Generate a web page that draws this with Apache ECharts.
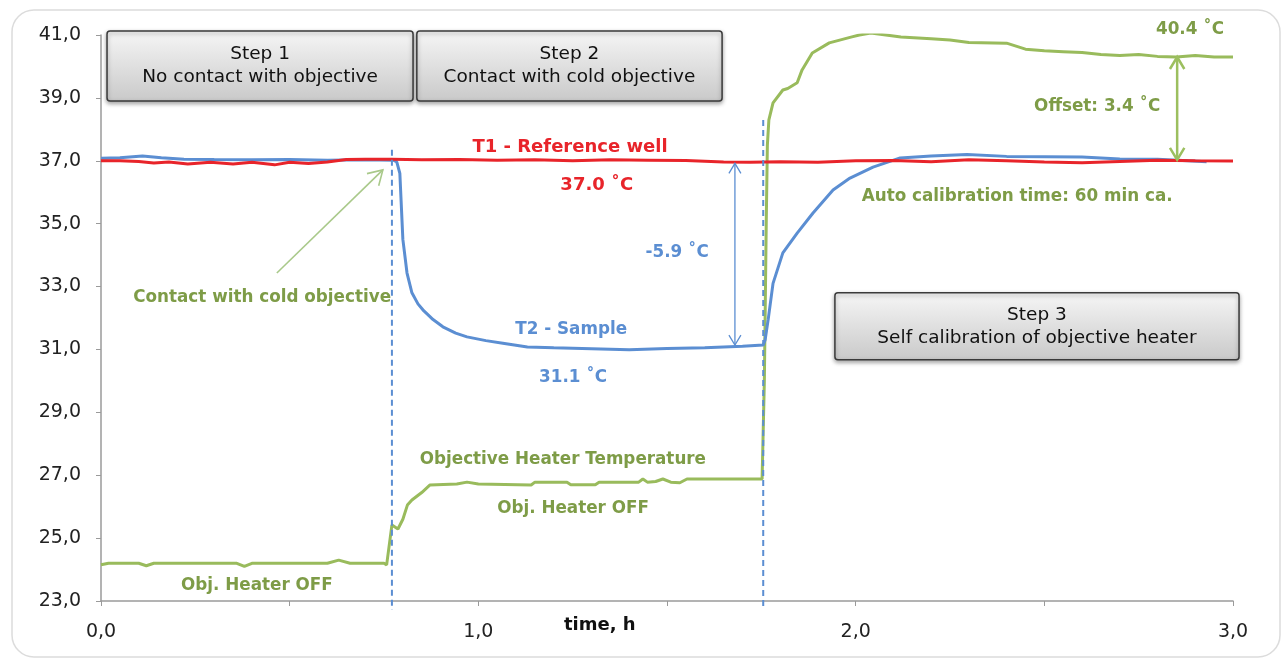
<!DOCTYPE html>
<html>
<head>
<meta charset="utf-8">
<style>
  html, body { margin: 0; padding: 0; background: #fff; }
  #chart { width: 1283px; height: 664px; }
</style>
<script src="https://cdn.jsdelivr.net/npm/echarts@6/dist/echarts.min.js"></script>
</head>
<body>
<div id="chart"></div>
<script>
// T1 - reference well, [time h, temp C]
const refWell = [
  [0, 37.0], [0.05, 37.0], [0.1, 36.98], [0.14, 36.93], [0.18, 36.96], [0.23, 36.9],
  [0.29, 36.95], [0.35, 36.9], [0.4, 36.95], [0.46, 36.87], [0.5, 36.95], [0.55, 36.91],
  [0.6, 36.96], [0.65, 37.04], [0.7, 37.05], [0.77, 37.05], [0.85, 37.03], [0.95, 37.04],
  [1.05, 37.02], [1.15, 37.03], [1.25, 37.0], [1.35, 37.03], [1.45, 37.02], [1.55, 37.01],
  [1.65, 36.96], [1.72, 36.95], [1.8, 36.97], [1.9, 36.95], [2.0, 37.0], [2.1, 37.01],
  [2.2, 36.97], [2.3, 37.03], [2.4, 37.0], [2.5, 36.96], [2.6, 36.94], [2.7, 36.98],
  [2.8, 37.02], [2.9, 37.0], [3.0, 36.99]
]

// T2 - sample
const sample = [
  [0, 37.08], [0.05, 37.1], [0.11, 37.15], [0.16, 37.1], [0.22, 37.05], [0.3, 37.04],
  [0.4, 37.03], [0.5, 37.04], [0.6, 37.02], [0.7, 37.03], [0.775, 37.02], [0.784, 36.96],
  [0.792, 36.6], [0.8, 34.5], [0.811, 33.43], [0.824, 32.8], [0.84, 32.45], [0.853, 32.26],
  [0.88, 31.95], [0.906, 31.72], [0.94, 31.52], [0.97, 31.4], [1.02, 31.28], [1.065, 31.2],
  [1.13, 31.08], [1.2, 31.05], [1.3, 31.02], [1.4, 30.99], [1.5, 31.03], [1.6, 31.05],
  [1.7, 31.1], [1.755, 31.14], [1.76, 31.3], [1.768, 31.94], [1.781, 33.1], [1.807, 34.07],
  [1.845, 34.7], [1.887, 35.34], [1.94, 36.07], [1.985, 36.45], [2.046, 36.8], [2.118, 37.09],
  [2.2, 37.15], [2.295, 37.2], [2.4, 37.14], [2.5, 37.13], [2.6, 37.12], [2.7, 37.06],
  [2.8, 37.05], [2.88, 37.0], [2.93, 36.97]
]

// objective heater temperature
const objHeater = [
  [0, 24.15], [0.02, 24.2], [0.1, 24.2], [0.12, 24.12], [0.14, 24.2], [0.25, 24.2],
  [0.36, 24.2], [0.38, 24.1], [0.4, 24.2], [0.5, 24.2], [0.6, 24.2], [0.63, 24.3],
  [0.66, 24.2], [0.75, 24.2], [0.757, 24.15], [0.771, 25.42], [0.787, 25.29], [0.8, 25.6],
  [0.812, 26.05], [0.824, 26.21], [0.85, 26.45], [0.872, 26.69], [0.943, 26.72], [0.97, 26.78],
  [1.0, 26.72], [1.14, 26.69], [1.15, 26.78], [1.235, 26.78], [1.245, 26.7], [1.31, 26.7],
  [1.32, 26.78], [1.425, 26.78], [1.436, 26.88], [1.448, 26.78], [1.47, 26.8], [1.489, 26.88],
  [1.51, 26.78], [1.534, 26.76], [1.553, 26.88], [1.752, 26.88], [1.758, 30.0], [1.763, 35.0],
  [1.766, 37.5], [1.77, 38.3], [1.781, 38.84], [1.807, 39.25], [1.82, 39.3], [1.845, 39.48],
  [1.858, 39.89], [1.885, 40.43], [1.93, 40.75], [1.99, 40.94], [2.01, 41.0], [2.04, 41.06],
  [2.08, 41.0], [2.12, 40.94], [2.2, 40.88], [2.25, 40.84], [2.3, 40.76], [2.4, 40.74],
  [2.45, 40.55], [2.5, 40.5], [2.55, 40.47], [2.6, 40.44], [2.65, 40.38], [2.7, 40.35],
  [2.75, 40.38], [2.8, 40.32], [2.85, 40.3], [2.9, 40.35], [2.95, 40.3], [3.0, 40.3]
]

const phaseChanges = [0.771, 1.755]

const RED = '#e8242a'
const BLUE = '#5b8ed2'
const GREEN = '#99bb5c'
const GREEN_TXT = '#7e9c47'
const FONT = '"DejaVu Sans", Verdana, sans-serif'

const chart = echarts.init(document.getElementById('chart'))

chart.setOption({
  animation: false,
  backgroundColor: '#fff',
  grid: { left: 101, right: 50, top: 35, bottom: 63 },
  xAxis: {
    type: 'value',
    min: 0,
    max: 3,
    interval: 0.5,
    axisLine: { lineStyle: { color: '#9a9a9a', width: 1.5 } },
    axisTick: { show: true, length: 5, lineStyle: { color: '#9a9a9a' } },
    splitLine: { show: false },
    axisLabel: {
      margin: 22,
      fontSize: 19,
      fontFamily: FONT,
      color: '#222',
      formatter: v => (Math.abs(v % 1) < 1e-6 ? v.toFixed(1).replace('.', ',') : '')
    }
  },
  yAxis: {
    type: 'value',
    min: 23,
    max: 41,
    interval: 2,
    axisLine: { show: true, lineStyle: { color: '#9a9a9a', width: 1.5 } },
    axisTick: { show: true, length: 5, lineStyle: { color: '#9a9a9a' } },
    splitLine: { show: false },
    axisLabel: {
      margin: 20,
      fontSize: 19,
      fontFamily: FONT,
      color: '#222',
      formatter: v => v.toFixed(1).replace('.', ',')
    }
  },
  series: [
    {
      name: 'Objective Heater Temperature',
      type: 'line',
      data: objHeater,
      showSymbol: false,
      clip: true,
      lineStyle: { color: GREEN, width: 3 }
    },
    {
      name: 'T2 - Sample',
      type: 'line',
      data: sample,
      showSymbol: false,
      lineStyle: { color: BLUE, width: 3 }
    },
    {
      name: 'T1 - Reference well',
      type: 'line',
      data: refWell,
      showSymbol: false,
      lineStyle: { color: RED, width: 3 }
    }
  ]
})

function px(t, v) {
  return chart.convertToPixel({ gridIndex: 0 }, [t, v])
}

function label(text, t, v, color, size) {
  const p = px(t, v)
  return {
    type: 'text',
    z: 20,
    style: {
      text: text,
      x: p[0],
      y: p[1],
      fill: color,
      font: 'bold ' + (size || 16.8) + 'px ' + FONT,
      textAlign: 'center',
      textVerticalAlign: 'middle'
    }
  }
}

function stepBox(t0, t1, vTop, vBot, lines) {
  const a = px(t0, vTop)
  const b = px(t1, vBot)
  const cx = (a[0] + b[0]) / 2
  const cy = (a[1] + b[1]) / 2
  return [
    {
      type: 'rect',
      z: 15,
      shape: { x: a[0], y: a[1], width: b[0] - a[0], height: b[1] - a[1], r: 3 },
      style: {
        fill: new echarts.graphic.LinearGradient(0, 0, 0, 1, [
          { offset: 0, color: '#f6f6f6' },
          { offset: 1, color: '#c9c9c9' }
        ]),
        stroke: '#3a3a3a',
        lineWidth: 1.5,
        shadowBlur: 4,
        shadowOffsetY: 2,
        shadowColor: 'rgba(0,0,0,0.35)'
      }
    },
    {
      type: 'text',
      z: 16,
      style: {
        text: lines.join('\n'),
        x: cx,
        y: cy,
        fill: '#111',
        font: '18.5px ' + FONT,
        lineHeight: 23,
        textAlign: 'center',
        textVerticalAlign: 'middle'
      }
    }
  ]
}

// single/double arrow with open chevron heads
function arrow(from, to, color, width, head, both) {
  const els = [{
    type: 'line',
    z: 12,
    shape: { x1: from[0], y1: from[1], x2: to[0], y2: to[1] },
    style: { stroke: color, lineWidth: width }
  }]
  const tips = both ? [[to, from], [from, to]] : [[to, from]]
  tips.forEach(([tip, tail]) => {
    const dx = tip[0] - tail[0]
    const dy = tip[1] - tail[1]
    const len = Math.sqrt(dx * dx + dy * dy)
    const ux = dx / len
    const uy = dy / len
    const bx = tip[0] - ux * head
    const by = tip[1] - uy * head
    const w = head * 0.6
    els.push({
      type: 'polyline',
      z: 12,
      shape: { points: [[bx - uy * w, by + ux * w], tip, [bx + uy * w, by - ux * w]] },
      style: { stroke: color, lineWidth: width, fill: null }
    })
  })
  return els
}

const graphics = []

// outer rounded frame
graphics.push({
  type: 'rect',
  z: 0,
  shape: { x: 12, y: 10, width: 1268, height: 647, r: 22 },
  style: { fill: null, stroke: '#dcdcdc', lineWidth: 1.5 }
})

// phase change dashed lines
const dashTops = [37.35, 38.3]
phaseChanges.forEach((t, i) => {
  const top = px(t, dashTops[i])
  const bot = px(t, 23)
  graphics.push({
    type: 'line',
    z: 11,
    shape: { x1: top[0], y1: top[1], x2: bot[0], y2: bot[1] + 9 },
    style: { stroke: BLUE, lineWidth: 2, lineDash: [6, 4] }
  })
})

graphics.push(...stepBox(0.016, 0.827, 41.13, 38.9, ['Step 1', 'No contact with objective']))
graphics.push(...stepBox(0.837, 1.646, 41.13, 38.9, ['Step 2', 'Contact with cold objective']))
graphics.push(...stepBox(1.945, 3.016, 32.8, 30.67, ['Step 3', 'Self calibration of objective heater']))

graphics.push(...arrow(px(1.68, 31.14), px(1.68, 36.92), BLUE, 1.3, 10, true))
graphics.push(...arrow(px(2.852, 37.03), px(2.852, 40.3), '#9cbf5f', 2.5, 12, true))
graphics.push(...arrow(px(0.466, 33.43), px(0.747, 36.71), '#a9c98a', 1.6, 14, false))

graphics.push(label('T1 - Reference well', 1.243, 37.44, RED, 18))
graphics.push(label('37.0 ˚C', 1.314, 36.23, RED, 18))
graphics.push(label('-5.9 ˚C', 1.527, 34.07, BLUE))
graphics.push(label('T2 - Sample', 1.246, 31.62, BLUE))
graphics.push(label('31.1 ˚C', 1.251, 30.09, BLUE))
graphics.push(label('Contact with cold objective', 0.427, 32.64, GREEN_TXT))
graphics.push(label('Objective Heater Temperature', 1.224, 27.48, GREEN_TXT))
graphics.push(label('Obj. Heater OFF', 1.251, 25.93, GREEN_TXT))
graphics.push(label('Obj. Heater OFF', 0.413, 23.48, GREEN_TXT))
graphics.push(label('40.4 ˚C', 2.886, 41.16, GREEN_TXT))
graphics.push(label('Offset: 3.4 ˚C', 2.64, 38.71, GREEN_TXT))
graphics.push(label('Auto calibration time: 60 min ca.', 2.428, 35.85, GREEN_TXT))

const nameAt = px(1.322, 23)
graphics.push({
  type: 'text',
  z: 20,
  style: {
    text: 'time, h',
    x: nameAt[0],
    y: nameAt[1] + 24,
    fill: '#111',
    font: 'bold 18px ' + FONT,
    textAlign: 'center',
    textVerticalAlign: 'middle'
  }
})

chart.setOption({ graphic: graphics })
</script>
</body>
</html>
